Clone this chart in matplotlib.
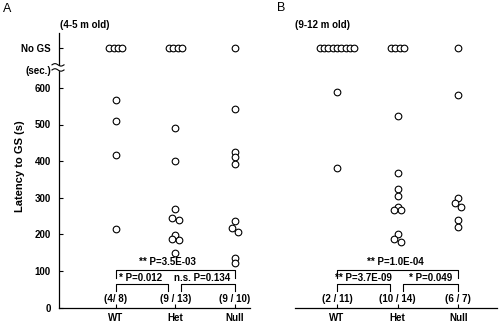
import numpy as np
import matplotlib
matplotlib.use("Agg")
import matplotlib.pyplot as plt
from matplotlib.transforms import blended_transform_factory

plt.rcParams['font.family'] = ['Liberation Sans', 'DejaVu Sans']
plt.rcParams['font.weight'] = 'bold'

groups = ["WT", "Het", "Null"]
y_ticks = [0, 100, 200, 300, 400, 500, 600]
no_gs_pos = 710
sec_pos = 646

# Panel A: 4-5 month old mice (latency in s)
a_wt = [567, 509, 416, 215]
a_het = [490, 400, 270, 245, 240, 198, 187, 185, 150]
a_null = [541, 426, 412, 392, 237, 218, 207, 135, 122]
a_no_gs = [4, 4, 1]
a_counts = ["(4/ 8)", "(9 / 13)", "(9 / 10)"]
a_p = ["** P=3.5E-03", "* P=0.012", "n.s. P=0.134"]

# Panel B: 9-12 month old mice (latency in s)
b_wt = [590, 380]
b_het = [522, 368, 323, 306, 275, 267, 267, 202, 186, 178]
b_null = [580, 298, 286, 275, 239, 221]
b_no_gs = [9, 4, 1]
b_counts = ["(2 / 11)", "(10 / 14)", "(6 / 7)"]
b_p = ["** P=1.0E-04", "** P=3.7E-09", "* P=0.049"]

W, H = 500, 326
fig = plt.figure(figsize=(W / 100, H / 100), dpi=100)

bottom = 1 - 307.5 / H
height = 274.5 / H
axA = fig.add_axes([59 / W, bottom, 191 / W, height])
axB = fig.add_axes([295 / W, bottom, 202 / W, height])
axA.set_xlim(0.049, 3.25)
axB.set_xlim(0.307, 3.64)
for ax in (axA, axB):
    ax.set_ylim(0, 750)

xpos = [1, 2, 3]


def px_scale(ax):
    bb = ax.get_position()
    wpx = bb.width * W
    hpx = bb.height * H
    x0, x1 = ax.get_xlim()
    y0, y1 = ax.get_ylim()
    return (x1 - x0) / wpx, hpx / (y1 - y0)


def swarm(vals, ax, thresh_px=4.5, spread_px=3.2):
    ux, py = px_scale(ax)
    order = np.argsort(vals)[::-1]
    offs = np.zeros(len(vals))
    clusters = [[order[0]]]
    for a, b in zip(order[:-1], order[1:]):
        if (vals[a] - vals[b]) * py < thresh_px:
            clusters[-1].append(b)
        else:
            clusters.append([b])
    for cl in clusters:
        n = len(cl)
        if n == 1:
            pattern = [0]
        elif n == 2:
            pattern = [-1, 1]
        else:
            pattern = [0] + [(-1) ** (k + 1) for k in range(n - 1)]
        for idx, p in zip(cl, pattern):
            offs[idx] = p * spread_px * ux
    return offs


mk = dict(marker='o', ls='none', mfc='white', mec='black', ms=4.8, mew=0.8,
          clip_on=False, zorder=3)


def draw_panel(ax, series, no_gs):
    ux, py = px_scale(ax)
    for x, vals, n in zip(xpos, series, no_gs):
        vals = np.asarray(vals, float)
        offs = swarm(vals, ax)
        ax.plot(x + offs, vals, **mk)
        step = 4.3 * ux
        cx = x + (np.arange(n) - (n - 1) / 2) * step
        ax.plot(cx, np.full(n, no_gs_pos), **mk)
    lw = 0.8
    # outer comparison WT vs Null
    ax.plot([1, 1, 3, 3], [81, 102, 102, 81], color='black', lw=lw)
    # WT vs Het, Het vs Null
    ax.plot([1, 1, 1.88, 1.88], [45, 63, 63, 45], color='black', lw=lw)
    ax.plot([2.09, 2.09, 3, 3], [45, 63, 63, 45], color='black', lw=lw)


draw_panel(axA, [a_wt, a_het, a_null], a_no_gs)
draw_panel(axB, [b_wt, b_het, b_null], b_no_gs)

fs = 7
# p-value labels
axA.text(1.87, 123, a_p[0], ha='center', va='center', fontsize=fs)
axA.text(1.41, 81, a_p[1], ha='center', va='center', fontsize=fs)
axA.text(2.45, 81, a_p[2], ha='center', va='center', fontsize=fs)
axB.text(1.96, 123, b_p[0], ha='center', va='center', fontsize=fs)
axB.text(1.44, 81, b_p[1], ha='center', va='center', fontsize=fs)
axB.text(2.55, 81, b_p[2], ha='center', va='center', fontsize=fs)
for ax, counts in ((axA, a_counts), (axB, b_counts)):
    for x, c in zip(xpos, counts):
        ax.text(x, 22, c, ha='center', va='center', fontsize=fs)

for ax in (axA, axB):
    ax.spines['top'].set_visible(False)
    ax.spines['right'].set_visible(False)
    ax.spines['bottom'].set_linewidth(0.9)
    ax.spines['left'].set_linewidth(0.9)
    ax.set_xticks(xpos)
    ax.set_xticklabels(groups, fontsize=fs, fontweight='bold')
    ax.tick_params(axis='x', direction='in', length=3, width=0.8, pad=4)

axA.set_yticks(y_ticks + [no_gs_pos])
axA.set_yticklabels([str(v) for v in y_ticks] + ["No GS"], fontsize=fs,
                    fontweight='bold')
axA.tick_params(axis='y', direction='in', length=3, width=0.8, pad=6)
axA.text(-8 / 191, sec_pos, "(sec.)", transform=blended_transform_factory(
    axA.transAxes, axA.transData), ha='right', va='center', fontsize=fs)
fig.text(20 / W, 1 - 166 / H, "Latency to GS (s)", rotation=90, ha='center',
         va='center', fontsize=8, fontweight='bold')

axB.spines['left'].set_visible(False)
axB.set_yticks([])

# axis break on the y axis
tr = blended_transform_factory(axA.transAxes, axA.transData)
t = np.linspace(0, 1, 60)
bx = (-7 + 12 * t) / 191
amp = 3.3
y_hi, y_lo = 663, 649
wave_hi = y_hi + amp * np.sin(2 * np.pi * t)
wave_lo = y_lo + amp * np.sin(2 * np.pi * t)
axA.fill_between(bx, wave_lo, wave_hi, color='white', transform=tr,
                 clip_on=False, zorder=4, lw=0)
axA.plot(bx, wave_hi, color='black', lw=0.8, transform=tr, clip_on=False, zorder=5)
axA.plot(bx, wave_lo, color='black', lw=0.8, transform=tr, clip_on=False, zorder=5)

fig.text(60 / W, 1 - 25 / H, "(4-5 m old)", ha='left', va='center', fontsize=fs)
fig.text(295 / W, 1 - 25 / H, "(9-12 m old)", ha='left', va='center', fontsize=fs)
fig.text(3 / W, 1 - 8.5 / H, "A", ha='left', va='center', fontsize=9,
         fontweight='normal')
fig.text(277 / W, 1 - 8 / H, "B", ha='left', va='center', fontsize=9,
         fontweight='normal')

fig.savefig("out.png", dpi=100, facecolor='white')
